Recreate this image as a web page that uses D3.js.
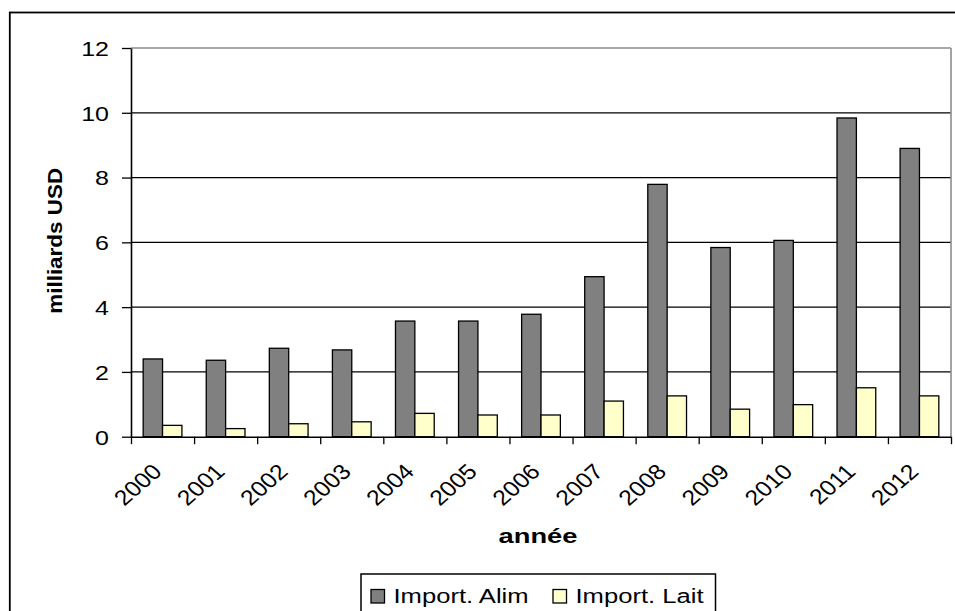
<!DOCTYPE html>
<html>
<head>
<meta charset="utf-8">
<script src="https://cdn.jsdelivr.net/npm/d3@7"></script>
<style>
  html, body { margin: 0; padding: 0; background: #fff; }
  svg text { font-family: 'Liberation Sans', Arial, sans-serif; fill: #000; }
</style>
</head>
<body>
<div id="chart"></div>
<script>
const years = ['2000', '2001', '2002', '2003', '2004', '2005', '2006', '2007', '2008', '2009', '2010', '2011', '2012']
const importAlim = [2.40, 2.36, 2.73, 2.68, 3.57, 3.57, 3.78, 4.94, 7.79, 5.84, 6.06, 9.84, 8.90]
const importLait = [0.35, 0.25, 0.40, 0.46, 0.72, 0.67, 0.67, 1.10, 1.26, 0.85, 0.99, 1.51, 1.26]
const seriesNames = ['Import. Alim', 'Import. Lait']
const seriesColors = ['#808080', '#ffffcc']
const yTicks = [0, 2, 4, 6, 8, 10, 12]
const yTitle = 'milliards USD'
const xTitle = 'année'

const width = 955
const height = 611
const margin = { top: 48, right: 4, bottom: 174.3, left: 131 }

const data = years.map((y, i) => ({ year: y, values: [importAlim[i], importLait[i]] }))

const svg = d3
  .select('#chart')
  .append('svg')
  .attr('width', width)
  .attr('height', height)

// outer chart frame (runs off the right and bottom edge)
svg
  .append('rect')
  .attr('x', 9.8)
  .attr('y', 12.5)
  .attr('width', width + 20)
  .attr('height', height + 20)
  .attr('fill', 'none')
  .attr('stroke', '#000')
  .attr('stroke-width', 1.8)

const x0 = d3
  .scaleBand()
  .domain(years)
  .range([margin.left, width - margin.right])
  .paddingInner(0.386)
  .paddingOuter(0.193)

const x1 = d3
  .scaleBand()
  .domain(d3.range(seriesNames.length))
  .range([0, x0.bandwidth()])

const y = d3
  .scaleLinear()
  .domain([0, 12])
  .range([height - margin.bottom, margin.top])

const right = width - margin.right

// gridlines
svg
  .append('g')
  .selectAll('line')
  .data(yTicks.filter(d => d > 0))
  .join('line')
  .attr('x1', margin.left)
  .attr('x2', right)
  .attr('y1', d => y(d))
  .attr('y2', d => y(d))
  .attr('stroke', d => (d === 12 ? '#8c8c8c' : '#000'))
  .attr('stroke-width', d => (d === 12 ? 1.6 : 1.2))

// right edge of the plot area
svg
  .append('line')
  .attr('x1', right)
  .attr('x2', right)
  .attr('y1', y(12))
  .attr('y2', y(0))
  .attr('stroke', '#8c8c8c')
  .attr('stroke-width', 1.6)

// bars
svg
  .append('g')
  .selectAll('g')
  .data(data)
  .join('g')
  .attr('transform', d => `translate(${x0(d.year)},0)`)
  .selectAll('rect')
  .data(d => d.values.map((v, i) => ({ v, i })))
  .join('rect')
  .attr('x', d => x1(d.i))
  .attr('width', x1.bandwidth())
  .attr('y', d => y(d.v))
  .attr('height', d => y(0) - y(d.v))
  .attr('fill', d => seriesColors[d.i])
  .attr('stroke', '#000')
  .attr('stroke-width', 1.3)

// y axis
const yAxis = svg
  .append('g')
  .attr('transform', `translate(${margin.left},0)`)
  .call(d3.axisLeft(y).tickValues(yTicks).tickSize(9).tickSizeOuter(0))
yAxis.select('.domain').attr('stroke-width', 1.6)
yAxis.selectAll('.tick line').attr('stroke-width', 1.3)
yAxis
  .selectAll('.tick text')
  .attr('x', 0)
  .attr('dy', '0.37em')
  .attr('font-size', '20px')
  .attr('transform', 'translate(-22,0) scale(1.25,1)')

// x axis: ticks at category boundaries
const xEdges = d3
  .scaleLinear()
  .domain([0, years.length])
  .range([margin.left, right])
const xAxis = svg
  .append('g')
  .attr('transform', `translate(0,${y(0)})`)
  .call(
    d3
      .axisBottom(xEdges)
      .tickValues(d3.range(years.length + 1))
      .tickFormat('')
      .tickSize(7.5)
      .tickSizeOuter(0)
  )
xAxis.select('.domain').attr('stroke-width', 1.6)
xAxis.selectAll('.tick line').attr('stroke-width', 1.3)

// rotated year labels
svg
  .append('g')
  .selectAll('text')
  .data(years)
  .join('text')
  .attr('transform', d => `translate(${x0(d) + x0.bandwidth() / 2 - 12},462) scale(1.15,1) rotate(-45)`)
  .attr('text-anchor', 'end')
  .attr('dy', '0.72em')
  .attr('font-size', '21.5px')
  .text(d => d)

// axis titles
svg
  .append('text')
  .attr('transform', 'translate(62,240.8) rotate(-90) scale(1.07,1)')
  .attr('text-anchor', 'middle')
  .attr('font-size', '21px')
  .attr('font-weight', 'bold')
  .text(yTitle)

svg
  .append('text')
  .attr('transform', `translate(${(margin.left + right) / 2 - 3},542.7) scale(1.3,1)`)
  .attr('text-anchor', 'middle')
  .attr('font-size', '21px')
  .attr('font-weight', 'bold')
  .text(xTitle)

// legend
const legend = svg.append('g').attr('transform', 'translate(361,574)')
legend
  .append('rect')
  .attr('width', 354.5)
  .attr('height', 60)
  .attr('fill', '#fff')
  .attr('stroke', '#000')
  .attr('stroke-width', 1.5)

const legendItem = legend
  .selectAll('.item')
  .data(seriesNames)
  .join('g')
  .attr('class', 'item')
  .attr('transform', (d, i) => `translate(${[10, 192][i]},0)`)

legendItem
  .append('rect')
  .attr('y', 15.5)
  .attr('width', 13.5)
  .attr('height', 13.5)
  .attr('fill', (d, i) => seriesColors[i])
  .attr('stroke', '#000')
  .attr('stroke-width', 1.3)

legendItem
  .append('text')
  .attr('transform', 'translate(22.5,28.5) scale(1.28,1)')
  .attr('font-size', '20px')
  .text(d => d)
</script>
</body>
</html>
